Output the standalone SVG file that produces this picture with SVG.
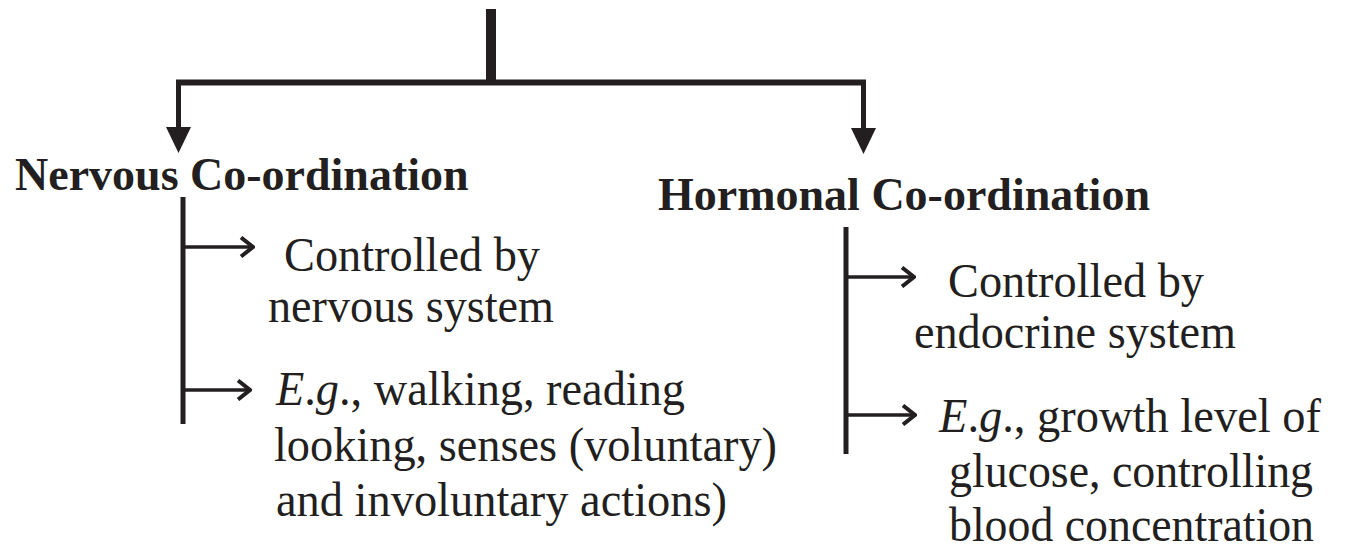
<svg xmlns="http://www.w3.org/2000/svg" width="1345" height="554" viewBox="0 0 1345 554">
  <style>
    .ln { stroke: #231f20; fill: none; }
    .head { font-family: "Liberation Serif", "Times New Roman", serif; font-weight: bold; font-size: 46px; fill: #231f20; }
    .body { font-family: "Liberation Serif", "Times New Roman", serif; font-size: 48px; fill: #231f20; }
    .it { font-style: italic; }
  </style>
  <defs>
    <marker id="tri" viewBox="0 0 26 25" refX="0" refY="12.5" markerWidth="26" markerHeight="25" markerUnits="userSpaceOnUse" orient="auto">
      <path d="M0,0 L26,12.5 L0,25 Z" fill="#231f20"/>
    </marker>
    <marker id="chev" viewBox="0 0 16 22" refX="14" refY="11" markerWidth="16" markerHeight="22" markerUnits="userSpaceOnUse" orient="auto">
      <path d="M2,1.5 L14,11 L2,20.5" fill="none" stroke="#231f20" stroke-width="4"/>
    </marker>
  </defs>
  <rect width="1345" height="554" fill="#ffffff"/>

  <g id="connectors">
    <line class="ln" x1="491" y1="9" x2="491" y2="85" stroke-width="10"/>
    <line class="ln" x1="176" y1="82.5" x2="866" y2="82.5" stroke-width="6"/>
    <line class="ln" x1="178.5" y1="80" x2="178.5" y2="127" stroke-width="5" marker-end="url(#tri)"/>
    <line class="ln" x1="863.5" y1="80" x2="863.5" y2="128" stroke-width="5" marker-end="url(#tri)"/>
    <line class="ln" x1="183" y1="197" x2="183" y2="424" stroke-width="5"/>
    <line class="ln" x1="183" y1="247" x2="253" y2="247" stroke-width="3.5" marker-end="url(#chev)"/>
    <line class="ln" x1="183" y1="390" x2="250" y2="390" stroke-width="3.5" marker-end="url(#chev)"/>
    <line class="ln" x1="846" y1="227" x2="846" y2="454" stroke-width="5"/>
    <line class="ln" x1="846" y1="277" x2="914" y2="277" stroke-width="3.5" marker-end="url(#chev)"/>
    <line class="ln" x1="846" y1="415" x2="915" y2="415" stroke-width="3.5" marker-end="url(#chev)"/>
  </g>

  <g id="nervous">
    <text class="head" x="15" y="190">Nervous Co-ordination</text>
  </g>
  <g id="nervous-control">
    <text class="body" x="284" y="271" textLength="256" lengthAdjust="spacingAndGlyphs">Controlled by</text>
    <text class="body" x="268" y="322" textLength="286" lengthAdjust="spacingAndGlyphs">nervous system</text>
  </g>
  <g id="nervous-example">
    <text class="body" x="276" y="405" textLength="409" lengthAdjust="spacingAndGlyphs"><tspan class="it">E</tspan>.<tspan class="it">g</tspan>., walking, reading</text>
    <text class="body" x="274" y="461" textLength="503" lengthAdjust="spacingAndGlyphs">looking, senses (voluntary)</text>
    <text class="body" x="276" y="516" textLength="451" lengthAdjust="spacingAndGlyphs">and involuntary actions)</text>
  </g>

  <g id="hormonal">
    <text class="head" x="658" y="210">Hormonal Co-ordination</text>
  </g>
  <g id="hormonal-control">
    <text class="body" x="948" y="297" textLength="256" lengthAdjust="spacingAndGlyphs">Controlled by</text>
    <text class="body" x="914" y="348" textLength="322" lengthAdjust="spacingAndGlyphs">endocrine system</text>
  </g>
  <g id="hormonal-example">
    <text class="body" x="939" y="432" textLength="382" lengthAdjust="spacingAndGlyphs"><tspan class="it">E</tspan>.<tspan class="it">g</tspan>., growth level of</text>
    <text class="body" x="949" y="487" textLength="364" lengthAdjust="spacingAndGlyphs">glucose, controlling</text>
    <text class="body" x="949" y="541" textLength="365" lengthAdjust="spacingAndGlyphs">blood concentration</text>
  </g>
</svg>
